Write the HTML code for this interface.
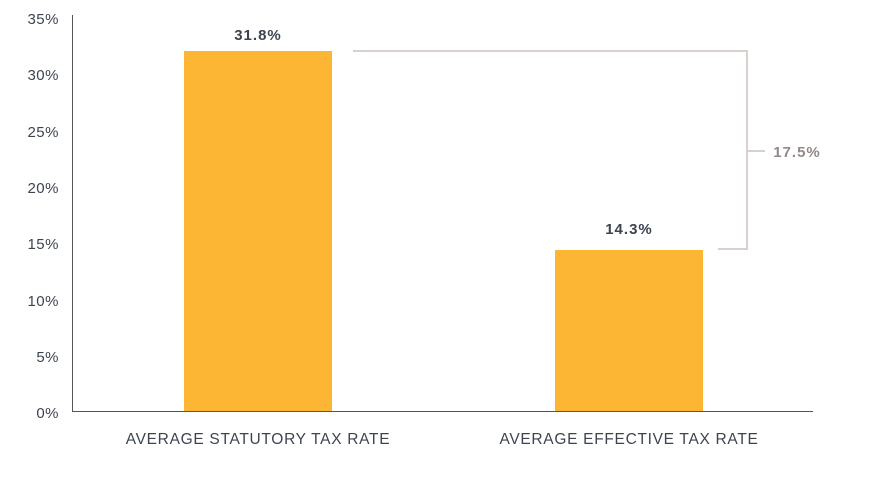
<!DOCTYPE html>
<html><head><meta charset="utf-8"><style>
html,body{margin:0;padding:0;background:#fff;}
svg text{font-family:"Liberation Sans",sans-serif;}
</style></head><body>
<svg width="870" height="483" viewBox="0 0 870 483" xmlns="http://www.w3.org/2000/svg">
<g fill="#3d4450" font-size="15" text-anchor="end" letter-spacing="0.5">
<text x="59" y="24">35%</text>
<text x="59" y="80">30%</text>
<text x="59" y="137">25%</text>
<text x="59" y="193">20%</text>
<text x="59" y="249">15%</text>
<text x="59" y="306">10%</text>
<text x="59" y="362">5%</text>
<text x="59" y="418">0%</text>
</g>
<rect x="184" y="51" width="148" height="361" fill="#fdb634"/>
<rect x="555" y="250" width="148" height="162" fill="#fdb634"/>
<line x1="72.5" y1="15" x2="72.5" y2="412" stroke="#555" stroke-width="1"/>
<line x1="72" y1="411.5" x2="813" y2="411.5" stroke="#555" stroke-width="1"/>
<polyline points="353,51 747,51 747,249 718,249" fill="none" stroke="#d8d0cc" stroke-width="2"/>
<line x1="747" y1="151" x2="765" y2="151" stroke="#d8d0cc" stroke-width="2"/>
<g font-weight="bold" font-size="15" text-anchor="middle" letter-spacing="1">
<text x="258" y="40" fill="#3d4450">31.8%</text>
<text x="629" y="234" fill="#3d4450">14.3%</text>
<text x="797" y="157" fill="#918987">17.5%</text>
</g>
<g fill="#3d4450" font-size="15.5" text-anchor="middle" letter-spacing="0.7">
<text x="258" y="444">AVERAGE STATUTORY TAX RATE</text>
<text x="629" y="444">AVERAGE EFFECTIVE TAX RATE</text>
</g>
</svg>
</body></html>
